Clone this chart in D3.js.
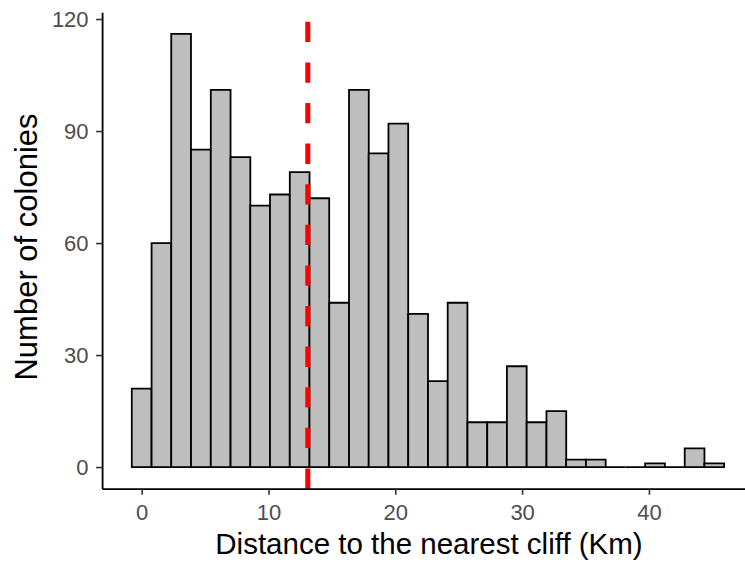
<!DOCTYPE html>
<html>
<head>
<meta charset="utf-8">
<script src="https://cdn.jsdelivr.net/npm/d3@7"></script>
<style>
  body { margin: 0; background: #fff; }
  svg { display: block; font-family: "Liberation Sans", Arial, sans-serif; }
</style>
</head>
<body>
<svg id="chart" width="745" height="562"></svg>
<script>
// histogram bins (centers, km) and counts
var binCenters = [0, 1.56, 3.11, 4.67, 6.23, 7.79, 9.34, 10.9, 12.46, 14.01,
                  15.57, 17.13, 18.68, 20.24, 21.8, 23.36, 24.91, 26.47, 28.03, 29.58,
                  31.14, 32.7, 34.25, 35.81, 37.37, 38.93, 40.48, 42.04, 43.6, 45.15]
var binCounts = [21, 60, 116, 85, 101, 83, 70, 73, 79, 72,
                 44, 101, 84, 92, 41, 23, 44, 12, 12, 27,
                 12, 15, 2, 2, 0, 0, 1, 0, 5, 1]
var binWidth = 1.557
var meanDistance = 13.1

var xTicks = [0, 10, 20, 30, 40]
var yTicks = [0, 30, 60, 90, 120]

window.onload = () => {
  draw_histogram()
}

function draw_histogram(){
  var svg = d3.select("#chart")

  // panel edges (ggplot expands 5% each side)
  var x = d3.scaleLinear()
    .domain([-3.12, 48.27])
    .range([102.1, 753.8])
  var y = d3.scaleLinear()
    .domain([-5.8, 121.8])
    .range([488.7, 12.3])

  var data = binCenters.map(function(c, i){ return {x0: c - binWidth/2, x1: c + binWidth/2, n: binCounts[i]} })

  // bars as paths so empty bins still show their outline
  svg.append("g")
    .selectAll("path")
    .data(data)
    .enter()
    .append("path")
      .attr("d", function(d){
        return "M" + x(d.x0) + "," + y(0) + "V" + y(d.n) + "H" + x(d.x1) + "V" + y(0) + "Z"
      })
      .attr("fill", "#bebebe")
      .attr("stroke", "#000")
      .attr("stroke-width", 1.8)

  // mean line, drawn bottom to top like ggplot does
  svg.append("line")
    .attr("x1", x(meanDistance))
    .attr("x2", x(meanDistance))
    .attr("y1", y.range()[0])
    .attr("y2", y.range()[1])
    .attr("stroke", "#ff0000")
    .attr("stroke-width", 5)
    .attr("stroke-dasharray", "20.3,20.3")

  // axes
  var xAxis = svg.append("g")
    .attr("transform", "translate(0," + y.range()[0] + ")")
    .call(d3.axisBottom(x).tickValues(xTicks).tickSize(6).tickSizeOuter(0).tickPadding(10))
  var yAxis = svg.append("g")
    .attr("transform", "translate(" + x.range()[0] + ",0)")
    .call(d3.axisLeft(y).tickValues(yTicks).tickSize(6).tickSizeOuter(0).tickPadding(7.5))

  ;[xAxis, yAxis].forEach(function(a){
    a.select(".domain").attr("stroke", "#000").attr("stroke-width", 1.8)
    a.selectAll(".tick line").attr("stroke", "#333").attr("stroke-width", 1.6)
    a.selectAll(".tick text")
      .attr("fill", "#4d4d4d")
      .style("font-size", "22px")
      .style("font-family", "'Liberation Sans', Arial, sans-serif")
  })

  // titles
  svg.append("text")
    .attr("x", 429)
    .attr("y", 554)
    .attr("text-anchor", "middle")
    .style("font-size", "29.5px")
    .attr("fill", "#000")
    .text("Distance to the nearest cliff (Km)")

  svg.append("text")
    .attr("transform", "translate(37,247) rotate(-90)")
    .attr("text-anchor", "middle")
    .style("font-size", "31px")
    .attr("fill", "#000")
    .text("Number of colonies")
}
</script>
</body>
</html>
